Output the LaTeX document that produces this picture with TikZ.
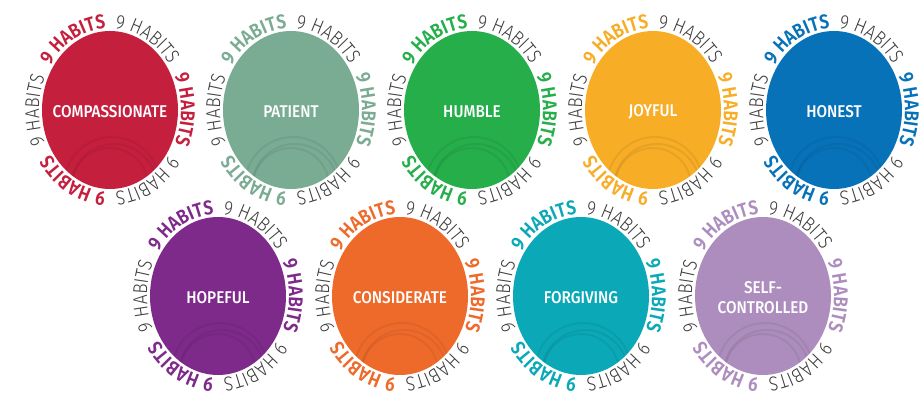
\documentclass[tikz,border=0pt]{standalone}
\usepackage{fontspec}
\setmainfont{Fira Sans}
\usetikzlibrary{shapes.geometric,decorations.text}
\IfFontExistsTF{Fira Sans Light}{\newfontfamily\ringlightfam[FakeStretch=0.86]{Fira Sans Light}}{\newfontfamily\ringlightfam[FakeStretch=0.86]{Fira Sans}}
\IfFontExistsTF{Fira Sans Medium}{\newfontfamily\labelfam[FakeStretch=0.9]{Fira Sans Medium}}{\newfontfamily\labelfam[FakeStretch=0.9]{Fira Sans}}
\IfFontExistsTF{Fira Sans SemiBold}{\newfontfamily\ringboldfam[FakeStretch=0.86]{Fira Sans SemiBold}}{\newfontfamily\ringboldfam[FakeStretch=0.86]{Fira Sans}}
\newcommand\ringboldf{\ringboldfam\fontsize{20pt}{20pt}\selectfont}
\newcommand\ringlightf{\ringlightfam\fontsize{20pt}{20pt}\selectfont}
\definecolor{cComp}{HTML}{C51F3E}
\definecolor{cPat}{HTML}{7AAB93}
\definecolor{cHum}{HTML}{26AE4B}
\definecolor{cJoy}{HTML}{F7AD26}
\definecolor{cHon}{HTML}{0872B9}
\definecolor{cHop}{HTML}{7E2A8B}
\definecolor{cCon}{HTML}{EE6A2B}
\definecolor{cFor}{HTML}{0BA8B7}
\definecolor{cSel}{HTML}{AD8DBD}
\definecolor{ringgray}{HTML}{3C3C3C}
\tikzset{
  disk/.style={ellipse, minimum width=136pt, minimum height=158pt, inner sep=0pt, draw=none},
  habitlabel/.style={text=white, font=\labelfam\fontsize{17pt}{20pt}\selectfont, align=center, inner sep=0pt},
  swirl/.style={draw=black, draw opacity=0.06, line width=2pt},
}
\newcommand\habitring[6]{%
  \node[disk, fill=#4] (#1) at (#2,#3) {};
  \begin{scope}
    \clip (#1.center) ellipse[x radius=68, y radius=79];
    \draw[swirl] (#1.center) ++(-46,-75) arc[start angle=180, end angle=0, radius=48];
    \draw[swirl] (#1.center) ++(-39,-77) arc[start angle=180, end angle=0, radius=43];
    \draw[swirl] (#1.center) ++(-38,-76) arc[start angle=180, end angle=0, radius=38];
  \end{scope}
  \node[habitlabel] (#6) at ([yshift=-2pt]#1.center) {#5};
  \foreach \m in {120,0,-120}{%
    \pgfmathsetmacro\sa{\m+30}%
    \pgfmathsetmacro\ea{\m-30}%
    \path[decorate, decoration={text along path, text align=center,
        text={|\ringboldf\color{#4}|9 HABITS}}]
      (#1.center) ++(\sa:71 and 82) arc[start angle=\sa, end angle=\ea, x radius=71, y radius=82];
  }
  \foreach \m in {60,-60,180}{%
    \pgfmathsetmacro\sa{\m+30}%
    \pgfmathsetmacro\ea{\m-30}%
    \path[decorate, decoration={text along path, text align=center,
        text={|\ringlightf\color{ringgray}|9 HABITS}}]
      (#1.center) ++(\sa:71 and 82) arc[start angle=\sa, end angle=\ea, x radius=71, y radius=82];
  }
}
\begin{document}
\begin{tikzpicture}[x=1pt,y=1pt]
  \useasboundingbox (0,0) rectangle (922,399);
  \habitring{comp}{110}{289}{cComp}{COMPASSIONATE}{compl}
  \habitring{pat}{291}{289}{cPat}{PATIENT}{patl}
  \habitring{hum}{472}{289}{cHum}{HUMBLE}{huml}
  \habitring{joy}{653}{289}{cJoy}{JOYFUL}{joyl}
  \habitring{hon}{834}{289}{cHon}{HONEST}{honl}
  \habitring{hop}{218}{103}{cHop}{HOPEFUL}{hopl}
  \habitring{con}{400}{103}{cCon}{CONSIDERATE}{conl}
  \habitring{for}{581}{103}{cFor}{FORGIVING}{forl}
  \habitring{sel}{763}{103}{cSel}{SELF-\\CONTROLLED}{sell}
\end{tikzpicture}
\end{document}
